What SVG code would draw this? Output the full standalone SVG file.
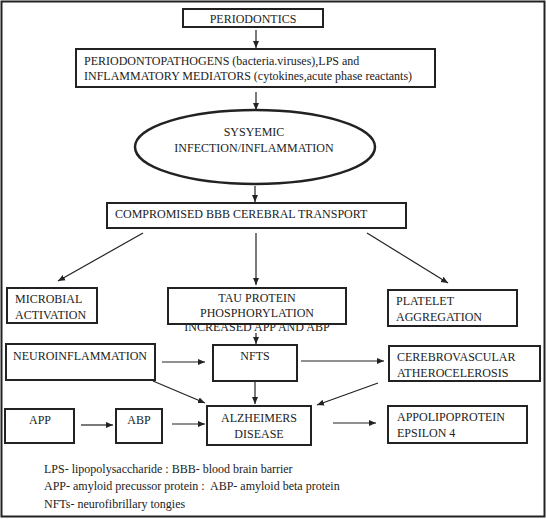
<svg xmlns="http://www.w3.org/2000/svg" width="546" height="519" viewBox="0 0 546 519">
<defs>
<marker id="ah" markerWidth="8" markerHeight="8" refX="7" refY="4" orient="auto" markerUnits="userSpaceOnUse">
<path d="M0,1 L7,4 L0,7 Z" fill="#222"/>
</marker>
<style>
.box{fill:#fff;stroke:#222;stroke-width:2}
text{font-family:'Liberation Serif','DejaVu Serif',serif;font-size:12px;fill:#222}
.c{text-anchor:middle}
.ln{stroke:#222;stroke-width:1.2;fill:none;marker-end:url(#ah)}
</style>
</defs>
<rect x="0" y="0" width="546" height="519" fill="#fff"/>
<rect x="1.5" y="1.5" width="543" height="515" fill="none" stroke="#222" stroke-width="2"/>

<g id="connectors">
<line class="ln" x1="256" y1="30" x2="256" y2="48"/>
<line class="ln" x1="256" y1="92" x2="256" y2="110"/>
<line class="ln" x1="255" y1="186" x2="255" y2="202"/>
<line class="ln" x1="143" y1="233" x2="58" y2="281"/>
<line class="ln" x1="256" y1="233" x2="256" y2="285"/>
<line class="ln" x1="367" y1="233" x2="448" y2="283"/>
<line class="ln" x1="256" y1="333" x2="256" y2="344"/>
<line class="ln" x1="162" y1="362" x2="205" y2="362"/>
<line class="ln" x1="301" y1="361" x2="384" y2="361"/>
<line class="ln" x1="153" y1="381" x2="205" y2="403"/>
<line class="ln" x1="255" y1="374" x2="255" y2="404"/>
<line class="ln" x1="378" y1="383" x2="317" y2="405"/>
<line class="ln" x1="81" y1="425" x2="113" y2="425"/>
<line class="ln" x1="172" y1="424" x2="205" y2="424"/>
<line class="ln" x1="333" y1="423" x2="376" y2="423"/>
</g>

<g id="periodontics">
<rect class="box" x="183" y="9" width="140" height="18"/>
<text class="c" x="253" y="23" font-family="Liberation Serif, serif">PERIODONTICS</text>
</g>
<g id="periodontopathogens">
<rect class="box" x="76" y="49" width="359" height="38"/>
<text x="84" y="65">PERIODONTOPATHOGENS (bacteria.viruses),LPS and</text>
<text x="84" y="80">INFLAMMATORY MEDIATORS (cytokines,acute phase reactants)</text>
</g>
<g id="systemic">
<ellipse cx="255" cy="147" rx="120" ry="37" fill="#fff" stroke="#222" stroke-width="2.5"/>
<text class="c" x="254" y="136">SYSYEMIC</text>
<text class="c" x="254" y="152">INFECTION/INFLAMMATION</text>
</g>
<g id="compromised">
<rect class="box" x="107" y="203" width="299" height="25"/>
<text x="115" y="218">COMPROMISED BBB CEREBRAL TRANSPORT</text>
</g>
<g id="microbial">
<rect class="box" x="7" y="288" width="90" height="35"/>
<text x="15" y="303">MICROBIAL</text>
<text x="15" y="319">ACTIVATION</text>
</g>
<g id="tau">
<rect class="box" x="168" y="288" width="178" height="36"/>
<text class="c" x="257" y="302">TAU PROTEIN</text>
<text class="c" x="257" y="317">PHOSPHORYLATION</text>
<text class="c" x="257" y="331">INCREASED APP AND ABP</text>
</g>
<g id="platelet">
<rect class="box" x="388" y="290" width="129" height="36"/>
<text x="396" y="305">PLATELET</text>
<text x="396" y="321">AGGREGATION</text>
</g>
<g id="neuroinflammation">
<rect class="box" x="6" y="344" width="149" height="36"/>
<text x="13" y="360">NEUROINFLAMMATION</text>
</g>
<g id="nfts">
<rect class="box" x="213" y="345" width="84" height="36"/>
<text class="c" x="255" y="360">NFTS</text>
</g>
<g id="cerebrovascular">
<rect class="box" x="389" y="346" width="151" height="35"/>
<text x="397" y="361">CEREBROVASCULAR</text>
<text x="397" y="377">ATHEROCELEROSIS</text>
</g>
<g id="app">
<rect class="box" x="5" y="409" width="69" height="34"/>
<text class="c" x="40" y="424">APP</text>
</g>
<g id="abp">
<rect class="box" x="116" y="409" width="46" height="34"/>
<text class="c" x="139" y="424">ABP</text>
</g>
<g id="alzheimers">
<rect class="box" x="207" y="406" width="104" height="39"/>
<text class="c" x="259" y="422">ALZHEIMERS</text>
<text class="c" x="259" y="438">DISEASE</text>
</g>
<g id="apolipoprotein">
<rect class="box" x="388" y="406" width="139" height="37"/>
<text x="397" y="421">APPOLIPOPROTEIN</text>
<text x="397" y="437">EPSILON 4</text>
</g>
<g id="legend">
<text x="44" y="473">LPS- lipopolysaccharide : BBB- blood brain barrier</text>
<text x="44" y="490" xml:space="preserve">APP- amyloid precussor protein :  ABP- amyloid beta protein</text>
<text x="44" y="508">NFTs- neurofibrillary tongies</text>
</g>
</svg>
